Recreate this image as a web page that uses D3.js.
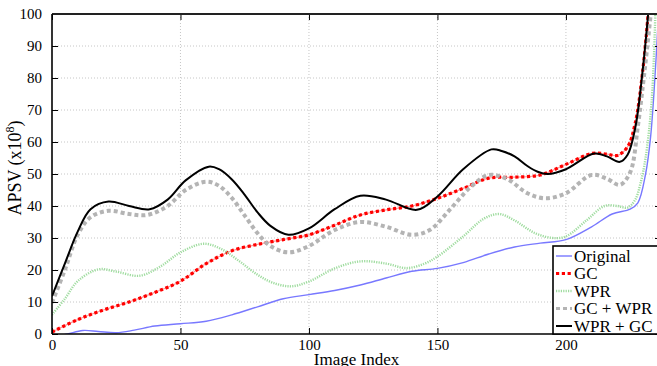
<!DOCTYPE html>
<html>
<head>
<meta charset="utf-8">
<script src="https://cdn.jsdelivr.net/npm/d3@7"></script>
<style>
  body { margin: 0; background: #fff; }
  svg { display: block; font-family: "Liberation Serif", "DejaVu Serif", serif; }
</style>
</head>
<body>
<div id="chart"></div>
<script>
// values: [image index, APSV]
const original = [[0,-1],[6,0],[12,1.1],[18,0.8],[25,0.4],[32,1.2],[40,2.5],[50,3.2],[60,4],[70,6],
    [80,8.5],[90,11],[100,12.3],[110,13.6],[120,15.3],[130,17.5],[140,19.6],[150,20.5],[160,22.3],
    [170,25],[180,27.2],[190,28.4],[200,29.5],[210,33.5],[218,37.5],[225,39],[228,41],[231,50],
    [233,62],[235,85],[236,100]];
const gc = [[0,0.6],[10,4.5],[20,7.5],[30,10],[40,13],[50,16.5],[60,22],[70,26],[80,28],[90,29.5],
    [100,31],[110,34],[120,37.2],[130,38.8],[140,40],[150,42.4],[160,45.5],[170,48.7],[180,49],
    [190,49.7],[200,53],[210,56.4],[216,56.2],[220,55.8],[224,58.5],[227,66],[230,83],[232,100]];
const wpr = [[0,6],[5,11],[10,16.5],[18,20.2],[25,19.5],[34,18.2],[42,21],[50,25.5],[59,28.2],
    [66,26.5],[73,22.7],[80,18.5],[86,16],[93,14.9],[100,16.4],[110,20.5],[120,22.7],[130,22],
    [138,20.6],[145,22],[150,24.2],[160,30.5],[168,36],[174,37.5],[180,35.5],[188,31.5],[195,30],
    [200,30.5],[208,35.5],[215,40],[220,40],[224,39.5],[227,42],[229,47],[231,55],[233.4,73],[234.8,100]];
const gcWpr = [[0,9.8],[5,20],[10,31],[15,36.5],[22,38.5],[30,37.5],[37,37.2],[45,40],[52,45],
    [60,47.6],[65,46.3],[70,42.5],[75,37],[80,31.5],[85,27.5],[92,25.5],[100,27.5],[110,32.5],[120,35],
    [130,33.5],[140,31],[147,32.5],[155,39],[163,46],[170,49.7],[177,48.5],[185,44],[192,42.4],
    [200,44],[210,49.7],[216,48.5],[221,46.6],[225,50.5],[228,65],[230,78],[231.5,88.6],[233,100]];
const wprGc = [[0,11.8],[5,22],[10,32],[15,39],[22,41.4],[30,40],[38,39],[45,42],[52,48],[61,52.3],
    [65,51.5],[70,48.3],[75,43.5],[80,38],[85,33.8],[92,31],[100,33],[110,39],[120,43.2],[130,42],
    [142,38.8],[150,43],[160,51.5],[171,57.7],[175,57.2],[180,55.5],[185,52.5],[189,50.7],[193,50],
    [200,51.5],[211,56.4],[216,55.5],[221,53.8],[224,56],[227,64.5],[230,83.4],[232,100]];

const xTicks = [0, 50, 100, 150, 200];
const yTicks = [0, 10, 20, 30, 40, 50, 60, 70, 80, 90, 100];
const seriesNames = ["Original", "GC", "WPR", "GC + WPR", "WPR + GC"];

const styles = {
    "Original": { color: "#7878ff", width: 1.4, dash: null },
    "GC": { color: "#ff0000", width: 3.2, dash: "3.2,2.6" },
    "WPR": { color: "#9fdc9f", width: 2.4, dash: "1.2,1.2" },
    "GC + WPR": { color: "#b4b4b4", width: 4, dash: "4,3" },
    "WPR + GC": { color: "#000000", width: 2, dash: null }
};
const seriesData = [original, gc, wpr, gcWpr, wprGc];

const width = 657, height = 366;
const margin = { top: 14, right: -4, bottom: 32, left: 52 };
const innerWidth = width - margin.left - margin.right;
const innerHeight = height - margin.top - margin.bottom;

const svg = d3.select("#chart").append("svg")
    .attr("width", width)
    .attr("height", height);
const graph = svg.append("g")
    .attr("transform", `translate(${margin.left},${margin.top})`);

const x = d3.scaleLinear().domain([0, 237]).range([0, innerWidth]);
const y = d3.scaleLinear().domain([0, 100]).range([innerHeight, 0]);

// grid
graph.append("g")
    .selectAll("line")
    .data(yTicks.slice(1, -1))
    .join("line")
    .attr("x1", 0).attr("x2", innerWidth)
    .attr("y1", d => y(d)).attr("y2", d => y(d))
    .attr("stroke", "#b8b8b8").attr("stroke-width", 0.8)
    .attr("stroke-dasharray", "1,2");
graph.append("g")
    .selectAll("line")
    .data(xTicks.slice(1))
    .join("line")
    .attr("x1", d => x(d)).attr("x2", d => x(d))
    .attr("y1", 0).attr("y2", innerHeight)
    .attr("stroke", "#b8b8b8").attr("stroke-width", 0.8)
    .attr("stroke-dasharray", "1,2");

svg.append("clipPath").attr("id", "clip")
    .append("rect").attr("width", innerWidth).attr("height", innerHeight);

const line = d3.line()
    .x(d => x(d[0]))
    .y(d => y(d[1]))
    .curve(d3.curveCatmullRom.alpha(0.5));

const lines = graph.append("g").attr("clip-path", "url(#clip)");
seriesNames.forEach((name, i) => {
    const s = styles[name];
    if (name === "GC") {
        lines.append("path")
            .attr("d", line(seriesData[i]))
            .attr("fill", "none")
            .attr("stroke", "#ff9a9a")
            .attr("stroke-width", 1.2);
    }
    lines.append("path")
        .attr("d", line(seriesData[i]))
        .attr("fill", "none")
        .attr("stroke", s.color)
        .attr("stroke-width", s.width)
        .attr("stroke-dasharray", s.dash);
});

// axes (ticks pointing inwards on all four sides)
const tickLen = 6;
const xAxis = graph.append("g")
    .attr("transform", `translate(0,${innerHeight})`)
    .call(d3.axisBottom(x).tickValues(xTicks).tickSize(-tickLen).tickPadding(7));
const xTop = graph.append("g")
    .call(d3.axisTop(x).tickValues(xTicks).tickSize(-tickLen).tickFormat(""));
const yAxis = graph.append("g")
    .call(d3.axisLeft(y).tickValues(yTicks).tickSize(-tickLen).tickPadding(10));
const yRight = graph.append("g")
    .attr("transform", `translate(${innerWidth},0)`)
    .call(d3.axisRight(y).tickValues(yTicks).tickSize(-tickLen).tickFormat(""));
[xAxis, xTop, yAxis, yRight].forEach(a => {
    a.select(".domain").remove();
    a.selectAll(".tick line").attr("stroke", "#000").attr("stroke-width", 1);
    a.selectAll(".tick text")
        .attr("font-family", "Liberation Serif, serif")
        .attr("font-size", 15)
        .attr("fill", "#000");
});
xAxis.selectAll(".tick text").attr("dy", "0.6em");

// frame
graph.append("line").attr("x1", 0).attr("x2", innerWidth).attr("y1", 0).attr("y2", 0)
    .attr("stroke", "#222").attr("stroke-width", 2);
graph.append("line").attr("x1", 0).attr("x2", innerWidth).attr("y1", innerHeight).attr("y2", innerHeight)
    .attr("stroke", "#000").attr("stroke-width", 1.6);
graph.append("line").attr("x1", 0).attr("x2", 0).attr("y1", 0).attr("y2", innerHeight)
    .attr("stroke", "#000").attr("stroke-width", 1.6);
graph.append("line").attr("x1", innerWidth).attr("x2", innerWidth).attr("y1", 0).attr("y2", innerHeight)
    .attr("stroke", "#000").attr("stroke-width", 1.6);

// axis labels
svg.append("text")
    .attr("x", margin.left + innerWidth / 2)
    .attr("y", 365)
    .attr("text-anchor", "middle")
    .attr("font-size", 17)
    .text("Image Index");
const yLabel = svg.append("text")
    .attr("transform", `translate(21,${margin.top + innerHeight / 2 - 6}) rotate(-90)`)
    .attr("text-anchor", "middle")
    .attr("font-size", 18);
yLabel.append("tspan").text("APSV (x10");
yLabel.append("tspan").attr("font-size", 12).attr("dy", -7).text("8");
yLabel.append("tspan").attr("dy", 7).text(")");

// legend
const legend = svg.append("g").attr("transform", "translate(553,246)");
legend.append("rect")
    .attr("width", 130).attr("height", 88)
    .attr("fill", "#fff").attr("stroke", "#000").attr("stroke-width", 1.6);
seriesNames.forEach((name, i) => {
    const s = styles[name];
    const ly = 10 + i * 17.5;
    legend.append("line")
        .attr("x1", 3).attr("x2", 19).attr("y1", ly).attr("y2", ly)
        .attr("stroke", s.color)
        .attr("stroke-width", Math.min(s.width, 3))
        .attr("stroke-dasharray", s.dash);
    legend.append("text")
        .attr("x", 21).attr("y", ly)
        .attr("dy", "0.35em")
        .attr("font-size", 17)
        .text(name);
});
</script>
</body>
</html>
